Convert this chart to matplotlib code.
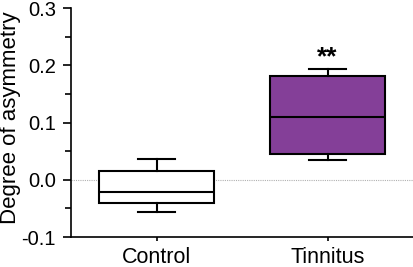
import matplotlib
matplotlib.use("Agg")
import matplotlib.pyplot as plt
from matplotlib.ticker import MultipleLocator

plt.rcParams['font.family'] = ['Liberation Sans', 'DejaVu Sans']

categories = ["Control", "Tinnitus"]
whisker_low = [-0.0558, 0.035]
q1 = [-0.0407, 0.0454]
median = [-0.0215, 0.110]
q3 = [0.0157, 0.1815]
whisker_high = [0.0366, 0.193]
face_colors = ["white", "#843f98"]
annotations = ["", "**"]
annotation_y = [None, 0.2147]

fig = plt.figure(figsize=(4.13, 2.67), dpi=100)
ax = fig.add_axes([0.172, 0.112, 0.828, 0.858])

stats = []
for i, c in enumerate(categories):
    stats.append(dict(label=c, whislo=whisker_low[i], q1=q1[i], med=median[i],
                      q3=q3[i], whishi=whisker_high[i], fliers=[]))

ax.axhline(0, color='#b0b0b0', lw=0.8, ls=(0, (1, 1)), zorder=0)

bp = ax.bxp(stats, positions=[1, 2], widths=0.67, patch_artist=True,
            showfliers=False,
            boxprops=dict(lw=1.5, edgecolor='black'),
            medianprops=dict(color='black', lw=1.5),
            whiskerprops=dict(color='black', lw=1.5),
            capprops=dict(color='black', lw=1.5),
            capwidths=0.22)
for patch, fc in zip(bp['boxes'], face_colors):
    patch.set_facecolor(fc)

for i, a in enumerate(annotations):
    if a:
        ax.text(i + 1, annotation_y[i], a, ha='center', va='center',
                fontsize=19, fontweight='bold')

ax.set_xlim(0.5, 2.5)
ax.set_ylim(-0.1, 0.3)
ax.yaxis.set_minor_locator(MultipleLocator(0.05))
ax.set_yticks([-0.1, 0.0, 0.1, 0.2, 0.3])
ax.set_yticklabels(["-0.1", "0.0", "0.1", "0.2", "0.3"])
ax.set_xticks([1, 2])
ax.set_xticklabels(categories)
ax.tick_params(axis='y', which='major', length=6, width=1.2, labelsize=14.5, direction='out', pad=5)
ax.tick_params(axis='y', which='minor', length=4, width=1.2, direction='out')
ax.tick_params(axis='x', which='major', length=3, width=1.2, labelsize=15.5, direction='out', pad=4)
fig.text(0.0, 0.56, "Degree of asymmetry", rotation=90, ha='left', va='center', fontsize=16)

for s in ['top', 'right']:
    ax.spines[s].set_visible(False)
for s in ['left', 'bottom']:
    ax.spines[s].set_linewidth(1.2)

fig.savefig("out.png", dpi=100)
